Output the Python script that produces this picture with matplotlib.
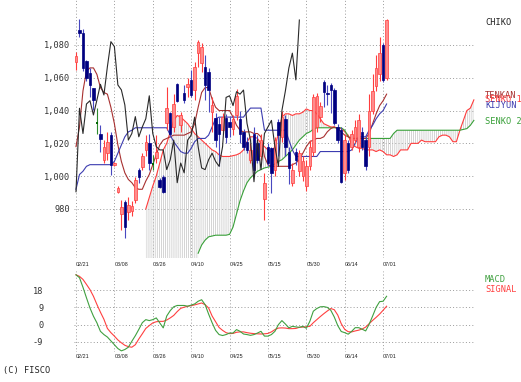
import numpy as np
import matplotlib
matplotlib.use("Agg")
import matplotlib.pyplot as plt

# ---- data ----
dates = ["02/21", "03/08", "03/26", "04/10", "04/25", "05/15", "05/30", "06/14", "07/01"]
date_pos = [0, 11, 22, 33, 44, 55, 66, 77, 88]

opens = [1069.5, 1089, 1087, 1070, 1063, 1053.5, 1032.8, 1026, 1010, 1014,
         1025, 1006.5, 990.5, 977, 984.5, 978.3, 979, 985.5, 1003.8, 1005.8,
         1016, 1020, 1008, 1011, 997.7, 999.7, 1032.2, 1038.3, 1030, 1056,
         1031, 1050.5, 1054.6, 1058.7, 1052.6, 1075, 1068.8, 1066.8, 1063.7, 1039.3,
         1035.3, 1032, 1028, 1035.3, 1033, 1029, 1037, 1035, 1027, 1021,
         1010, 1026, 1020, 1012, 986, 1018, 1017, 1004, 1033, 1024,
         1035, 1015, 996, 1015, 1003, 1000, 994, 1006, 1015, 1030,
         1036, 1057.6, 1051, 1055.6, 1052.5, 1030, 1028, 1001.7, 1020, 1018,
         1022, 1018, 1027, 1022, 1018, 1040, 1055, 1062, 1080, 1059.7]
highs = [1076, 1096, 1089.5, 1071, 1066, 1054, 1041.4, 1031, 1022, 1027,
         1027, 1008.5, 994, 985.5, 985.5, 987.5, 985, 999.7, 1004.8, 1014,
         1025, 1026, 1013, 1025, 998.7, 1000.7, 1054.6, 1039.3, 1050, 1057,
         1039.3, 1055.6, 1060, 1064.8, 1069.8, 1083, 1081, 1074, 1065.8, 1048.5,
         1038.3, 1036, 1038.3, 1038, 1036, 1037, 1053, 1040, 1029, 1024,
         1020, 1030, 1025, 1026, 1002, 1020, 1018, 1024, 1035, 1040,
         1037, 1018, 1008, 1017, 1016, 1012, 1010, 1022, 1050, 1051,
         1045, 1058.6, 1055.6, 1056.6, 1053.5, 1032, 1030, 1026, 1022, 1028,
         1034, 1038, 1030, 1024, 1050, 1062, 1074, 1085, 1081, 1096]
lows = [1065, 1085, 1064, 1058, 1048.5, 1040.5, 1026, 1015, 1008, 1010,
        1000.7, 1006, 989.5, 967, 962, 973, 976, 983.4, 995.6, 1003.8,
        1012, 1003.8, 1003.8, 1008, 992.6, 990, 1028, 1024, 1027, 1045,
        1027, 1044.4, 1048.5, 1048.5, 1046.5, 1066.8, 1063.7, 1046.5, 1039.3, 1027,
        1018, 1006, 1026, 1020, 1024, 1025, 1034, 1020, 1016, 1014,
        1008, 1000, 1008, 1010, 973, 1006, 990, 1000, 1012, 1021,
        1012, 995, 994, 1007, 1000, 997, 991, 1004, 1012, 1027,
        1033, 1042.4, 1043.4, 1038.3, 1031.2, 1020, 995.6, 997.7, 1001.7, 1016,
        1020, 1015, 1016, 1004, 1012, 1038, 1052, 1058, 1057.6, 1058.7]
closes = [1073, 1087, 1066, 1060, 1055.5, 1046.5, 1032.4, 1022.5, 1018, 1021,
          1007, 1008, 993, 981.4, 969.2, 982.4, 981.5, 997.7, 999.7, 1012,
          1021, 1008, 1007.7, 1015, 993.6, 990.5, 1041.4, 1026, 1044, 1046,
          1037.3, 1046.5, 1056, 1049.5, 1066.8, 1082, 1079, 1055.6, 1052.6, 1043.4,
          1022, 1026, 1036.3, 1024, 1030, 1035, 1049, 1026, 1018, 1016,
          1016, 1004, 1010, 1022, 996, 1008, 1002, 1022, 1025, 1036,
          1018, 1005, 1004, 1010, 1014, 1009, 1006, 1018, 1048, 1049,
          1043, 1051.5, 1050, 1052.5, 1032.2, 1022, 996.6, 1022, 1004, 1026,
          1030, 1034, 1018, 1006, 1040, 1052, 1066, 1075, 1058.7, 1095.2]

tenkan = [1018, 1030, 1052, 1064, 1066, 1066, 1062, 1054, 1051, 1050,
          1042, 1032, 1019, 1009, 1002, 998, 996, 993, 992, 992,
          997, 1001, 1007, 1013, 1019, 1022, 1023, 1024, 1025, 1025,
          1025, 1025, 1026, 1027, 1032, 1042, 1051, 1054, 1054, 1047,
          1042, 1040, 1040, 1040, 1040, 1036, 1031, 1028, 1027, 1027,
          1027, 1026, 1026, 1024, 1012, 1007, 1006, 1006, 1006, 1006,
          1006, 1006, 1007, 1008, 1010, 1014, 1018, 1021, 1022, 1023,
          1023, 1024, 1027, 1029, 1030, 1029, 1027, 1025, 1024, 1023,
          1023, 1023, 1023, 1023, 1026, 1032, 1038, 1043, 1046, 1050]
kijun = [992, 1001, 1003, 1006, 1007, 1007, 1007, 1007, 1007, 1007,
         1007, 1009, 1014, 1019, 1024, 1027, 1028, 1029.5, 1029.5, 1029.5,
         1029.5, 1029.5, 1029.5, 1029.5, 1029.5, 1029.5, 1029.5, 1025, 1021, 1018,
         1015, 1014, 1014, 1017, 1021, 1023, 1023, 1023, 1025, 1030,
         1035, 1036, 1036, 1036, 1036, 1036, 1036, 1036, 1036, 1039,
         1041.5, 1041.5, 1041.5, 1041.5, 1028, 1028, 1028, 1028, 1028, 1028,
         1028, 1022, 1016, 1012, 1012, 1012, 1012, 1012, 1012, 1012,
         1015, 1015, 1015, 1015, 1015, 1015, 1015, 1015, 1015, 1016,
         1020, 1024, 1024, 1024, 1028, 1031, 1035, 1038, 1040, 1044]

# senko 1 starts at bar 20, senko 2 at bar 35 (both run 25 bars past the last candle)
senko1_start = 20
senko1 = [980, 987, 994, 1000, 1008, 1016, 1020, 1027, 1034, 1037,
          1036, 1034, 1032, 1029, 1026, 1024, 1022, 1020, 1018, 1016,
          1015, 1013, 1012, 1012, 1012, 1012.5, 1013, 1014, 1016, 1021,
          1024, 1024, 1023, 1020, 1018, 1016, 1015, 1018, 1026, 1036,
          1038, 1038, 1037, 1038, 1038, 1039, 1041, 1040, 1040, 1038,
          1035, 1032, 1031, 1030, 1030, 1029, 1029, 1027, 1025, 1019,
          1018, 1017, 1017, 1016, 1016, 1016, 1015, 1016, 1015, 1013,
          1013, 1012, 1013, 1016, 1016, 1016, 1020, 1020, 1020, 1022,
          1021, 1021, 1021, 1021, 1024, 1025, 1025, 1024, 1021, 1021,
          1028, 1034, 1040, 1041.5, 1046.5]
senko2_start = 35
senko2 = [953, 958, 961, 963, 963.5, 964, 964, 964, 964, 964.5,
          969, 977, 985, 991, 996, 999, 1001, 1003, 1004, 1005,
          1005.5, 1006, 1007.5, 1009, 1010, 1012, 1014, 1016, 1019, 1022,
          1024, 1026, 1027, 1028.5, 1029.5, 1029.5, 1029.5, 1029.5, 1029.5, 1029.5,
          1029.5, 1029.5, 1028, 1024, 1023, 1023, 1023, 1023, 1023, 1023,
          1023, 1023, 1023, 1023, 1023, 1023, 1026, 1028, 1028, 1028,
          1028, 1028, 1028, 1028, 1028, 1028, 1028, 1028, 1028, 1028,
          1028, 1028, 1028, 1028, 1028, 1028, 1028.5, 1029, 1031, 1034]
chiko_shift = 25

macd = [26, 24.5, 19.5, 14, 8.7, 4.4, 0.9, -3.5, -5.2, -6.5,
        -8.5, -10.5, -12.5, -13.7, -13, -11.8, -8.7, -5.8, -2.5, 1.0,
        2.6, 2.1, 2.6, 3.5, 0.9, -1.7, 4.5, 7.3, 9.3, 10,
        10, 10, 9.6, 10.2, 10.8, 12.2, 13, 10.4, 5.5, 1.0,
        -3, -5.2, -5.7, -5.2, -4.4, -4.4, -2.6, -3.5, -4.9, -5.2,
        -5.6, -5.2, -4.4, -3.5, -6, -6, -5.2, -3.5, 0, 2.1,
        0.3, -1.7, -0.9, -1.2, -1.4, -0.9, -1.9, 1.7, 7, 8.4,
        9.3, 9.4, 9, 7.5, 4, -0.5, -3.6, -4.2, -5, -3.5,
        -1.6, -1.6, -2.4, -3.3, 0.2, 4.5, 9, 12, 12.2, 14.8]
signal = [26, 25.2, 23.6, 21, 18.3, 14.8, 10.5, 6.5, 2.8, -2,
          -4.2, -6, -8, -9.5, -10.8, -11.5, -11.8, -10.5, -7.5, -4.8,
          -2, -0.5, 0.9, 1.5, 1.7, 1.7, 2.4, 3.5, 4.8, 6.8,
          8.5, 9.1, 9.6, 9.9, 10.3, 10.8, 11.3, 10.4, 8.7, 4.5,
          1.5, -1.5, -3, -4.2, -4.7, -4.6, -4, -3.8, -3.8, -4.2,
          -4.5, -4.7, -4.8, -4.9, -4.8, -4.6, -3.8, -2.6, -1.8, -1.7,
          -1.8, -2.1, -2.1, -2, -1.4, -1.3, -1.1, -0.9, 1.0, 2.6,
          4.2, 5.7, 7.1, 8.4, 7.8, 5.0, 0.5, -2.5, -3.7, -3.8,
          -3.3, -2.9, -2.3, -1.3, 0.5, 2.2, 3.8, 5.5, 7.5, 9.6]

# ---- colours ----
C_UP_FACE, C_UP_EDGE = "#ff8c8c", "#ff3c3c"
C_DN_FACE, C_DN_WICK = "#000080", "#4848c0"
C_TENKAN = "#a83030"
C_KIJUN = "#3c3cb0"
C_SENKO1 = "#ff3c3c"
C_SENKO2 = "#38a038"
C_CHIKO = "#2a2a2a"
GRID = dict(color="#9a9a9a", linestyle=(0, (1, 2.3)), linewidth=0.7)

plt.rcParams["font.family"] = ["DejaVu Sans Mono", "DejaVu Sans"]
plt.rcParams["axes.unicode_minus"] = False
plt.rcParams["hatch.linewidth"] = 0.5
plt.rcParams["hatch.color"] = "#c4c4c4"

W, H = 521, 382
fig = plt.figure(figsize=(W / 100, H / 100), dpi=100)


def px_axes(x0, y0, x1, y1):
    return fig.add_axes([x0 / W, 1 - y1 / H, (x1 - x0) / W, (y1 - y0) / H])


XLIM = (-0.6, 114.3)

# ---- main ichimoku panel ----
ax = px_axes(73.9, 0, 474.9, 258)
ax.set_xlim(*XLIM)
ax.set_ylim(950.1, 1107.4)
ybot = ax.get_ylim()[0]

o = np.array(opens)
h = np.array(highs)
l = np.array(lows)
c = np.array(closes)
x = np.arange(len(c))
s1 = np.array(senko1)
s2 = np.array(senko2)
xs1 = np.arange(senko1_start, senko1_start + len(s1))
xs2 = np.arange(senko2_start, senko2_start + len(s2))

# cloud hatching
pre = xs1 <= senko2_start
ax.fill_between(xs1[pre], s1[pre], ybot, facecolor="none", edgecolor="#c4c4c4",
                hatch="||||||||", linewidth=0, zorder=1)
ax.fill_between(xs2, s1[xs2 - senko1_start], s2, facecolor="none", edgecolor="#c4c4c4",
                hatch="||||||||", linewidth=0, zorder=1, interpolate=True)

ax.plot(xs1, s1, color=C_SENKO1, lw=0.8, zorder=2)
ax.plot(xs2, s2, color=C_SENKO2, lw=0.8, zorder=2)
ax.plot(x, tenkan, color=C_TENKAN, lw=0.8, zorder=2)
ax.plot(x, kijun, color=C_KIJUN, lw=0.8, zorder=2)

up = c > o + 0.5
dn = c < o - 0.5
dj = ~(up | dn)
bw = 0.72
ax.vlines(x[up], l[up], h[up], color=C_UP_EDGE, lw=0.8, zorder=3)
ax.bar(x[up], c[up] - o[up], bottom=o[up], width=bw, color=C_UP_FACE,
       edgecolor=C_UP_EDGE, linewidth=0.5, zorder=4)
ax.vlines(x[dn], l[dn], h[dn], color=C_DN_WICK, lw=0.8, zorder=3)
ax.bar(x[dn], o[dn] - c[dn], bottom=c[dn], width=bw, color=C_DN_FACE,
       edgecolor=C_DN_FACE, linewidth=0.5, zorder=4)
ax.vlines(x[dj], l[dj], h[dj], color="#2e8b2e", lw=0.8, zorder=3)
ax.hlines(c[dj], x[dj] - bw / 2, x[dj] + bw / 2, color="#006400", lw=1.4, zorder=4)

# lagging span: the closes drawn 25 bars back
ax.plot(x[:-chiko_shift], c[chiko_shift:], color=C_CHIKO, lw=0.8, zorder=5)

yt = [980, 1000, 1020, 1040, 1060, 1080]
ax.set_yticks(yt, [f"{v:,}" for v in yt])
ax.set_xticks(date_pos, dates)
ax.grid(True, **GRID)
ax.set_axisbelow(True)
for s in ax.spines.values():
    s.set_visible(False)
ax.tick_params(axis="y", length=0, pad=2.4, labelsize=6.2, labelcolor="#333333")
ax.tick_params(axis="x", length=0, pad=3.2, labelsize=3.9, labelcolor="#222222")
for lbl in ax.get_xticklabels():
    lbl.set_ha("left")
    lbl.set_family("Liberation Sans")

# ---- MACD panel ----
bx = px_axes(73.9, 271, 474.9, 352)
bx.set_xlim(*XLIM)
bx.set_ylim(-14.3, 28.0)
bx.plot(x, signal, color="#ff4040", lw=0.8)
bx.plot(x, macd, color="#40a040", lw=0.8)
bx.set_yticks([-9, 0, 9, 18])
bx.set_xticks(date_pos, dates)
bx.grid(True, **GRID)
bx.set_axisbelow(True)
for s in bx.spines.values():
    s.set_visible(False)
bx.tick_params(axis="y", length=0, pad=22, labelsize=6.2, labelcolor="#333333")
bx.tick_params(axis="x", length=0, pad=1.2, labelsize=3.9, labelcolor="#222222")
for lbl in bx.get_xticklabels():
    lbl.set_ha("left")
    lbl.set_family("Liberation Sans")

# ---- side labels ----
def label(ypx, text, color, xpx=485):
    fig.text(xpx / W, 1 - ypx / H, text, color=color, fontsize=6.2, va="center", ha="left")


label(22.3, "CHIKO", "#222222")
label(95, "TENKAN", C_TENKAN)
label(100, "SENKO 1", C_SENKO1)
label(105, "KIJYUN", C_KIJUN)
label(121.7, "SENKO 2", C_SENKO2)
label(279, "MACD", "#40a040")
label(289.3, "SIGNAL", "#ff4040")
label(371, "(C) FISCO", "#222222", xpx=3)

fig.savefig("out.png", dpi=100)
